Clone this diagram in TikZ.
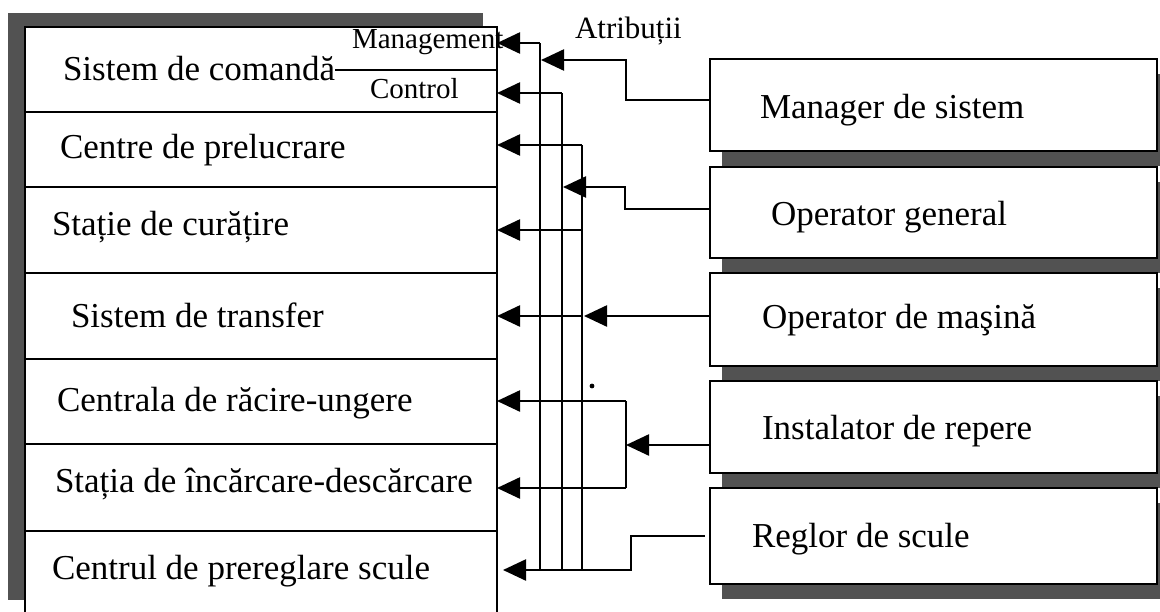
\documentclass[tikz,border=0pt]{standalone}
\usepackage{fontspec}
\setmainfont{Liberation Serif}
\usetikzlibrary{arrows.meta}

\begin{document}
\begin{tikzpicture}[x=1pt,y=-1pt,
  every node/.style={inner sep=0pt, outer sep=0pt},
  lbl/.style={anchor=base west, font=\fontsize{35}{40}\selectfont},
  sml/.style={anchor=base west, font=\fontsize{29}{34}\selectfont},
  frame/.style={draw, line width=2.7pt, fill=white},
  shade/.style={fill=black!68},
  wire/.style={line width=2.4pt},
  tip/.style={-{Triangle[length=23pt,width=21pt]}},
]
\useasboundingbox (0,0) rectangle (1160,611);

% ---- left column: components of the flexible system ----
\fill[shade] (8,13) rectangle (483,600);
\node[frame, minimum width=472pt, minimum height=587pt] (sys) at (261,320.5) {};
\foreach \y in {112,187,273,359,444,531}
  \draw[wire] (sys.west |- 0,\y) -- (sys.east |- 0,\y);

\node[lbl] (t1) at (63,80)  {Sistem de comandă};
\node[lbl] (t2) at (60,158) {Centre de prelucrare};
\node[lbl] (t3) at (52,235) {Stație de curățire};
\node[lbl] (t4) at (71,327) {Sistem de transfer};
\node[lbl] (t5) at (57,411) {Centrala de răcire-ungere};
\node[lbl] (t6) at (55,492) {Stația de încărcare-descărcare};
\node[lbl] (t7) at (52,579) {Centrul de prereglare scule};

\draw[wire] (t1.east |- 0,70) -- (sys.east |- 0,70);
\node[sml] (mg) at (352,48) {Management};
\node[sml] (ct) at (370,98) {Control};
\node[anchor=base west, font=\fontsize{31}{36}\selectfont] (atr) at (575,38) {Atribuții};

% ---- right column: personnel ----
\foreach \n/\ya/\yb in {mgr/59/151, opg/167/258, opm/273/366, ins/381/473, reg/488/584}
  \fill[shade] (722,\ya+15) rectangle (1175,\yb+15);
\foreach \n/\ya/\yb in {mgr/59/151, opg/167/258, opm/273/366, ins/381/473, reg/488/584}
  \node[frame, minimum width=447pt, minimum height={\yb-\ya}] (\n) at (933.5,{(\ya+\yb)/2}) {};

\node[lbl] at (760,118) {Manager de sistem};
\node[lbl] at (771,225) {Operator general};
\node[lbl] at (762,328) {Operator de maşină};
\node[lbl] at (762,439) {Instalator de repere};
\node[lbl] at (752,547) {Reglor de scule};

% ---- distribution buses ----
\coordinate (busA) at (540,0);
\coordinate (busB) at (562,0);
\coordinate (busC) at (582,0);
\coordinate (jogM) at (626,0);
\coordinate (jogG) at (625,0);
\coordinate (jogI) at (626,0);
\coordinate (jogR) at (631,0);

\draw[wire] (busA |- 0,43)  -- (busA |- 0,570);
\draw[wire] (busB |- 0,93)  -- (busB |- 0,570);
\draw[wire] (busC |- 0,145) -- (busC |- 0,570);

\draw[wire,tip] (busA |- 0,43)  -- (sys.east |- 0,43);
\draw[wire,tip] (busB |- 0,93)  -- (sys.east |- 0,93);
\draw[wire,tip] (busC |- 0,145) -- (sys.east |- 0,145);
\draw[wire,tip] (busC |- 0,230) -- (sys.east |- 0,230);
\draw[wire,tip] (busC |- 0,316) -- (sys.east |- 0,316);

% manager de sistem
\draw[wire,tip] (mgr.west |- 0,100) -- (jogM |- 0,100) -- (jogM |- 0,60) -- ([xshift=1pt]busA |- 0,60);
% operator general
\draw[wire,tip] (opg.west |- 0,209) -- (jogG |- 0,209) -- (jogG |- 0,187) -- ([xshift=1pt]busB |- 0,187);
% operator de masina
\draw[wire,tip] (opm.west |- 0,316) -- ([xshift=2pt]busC |- 0,316);
% instalator de repere
\draw[wire] (jogI |- 0,401) -- (jogI |- 0,488);
\draw[wire,tip] (ins.west |- 0,445) -- (jogI |- 0,445);
\draw[wire,tip] (jogI |- 0,401) -- (sys.east |- 0,401);
\draw[wire,tip] (jogI |- 0,488) -- (sys.east |- 0,488);
% reglor de scule
\draw[wire,tip] ([xshift=-5pt]reg.west |- 0,536) -- (jogR |- 0,536) -- (jogR |- 0,570) -- ([xshift=6pt]sys.east |- 0,570);

\fill (592,386) circle (2.4pt);
\end{tikzpicture}
\end{document}
